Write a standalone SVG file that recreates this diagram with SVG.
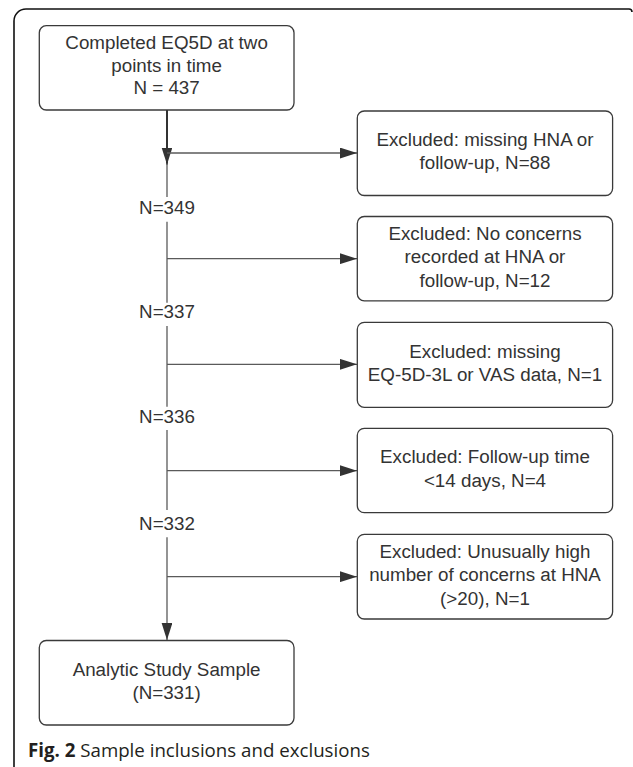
<svg xmlns="http://www.w3.org/2000/svg" width="633" height="767" viewBox="0 0 633 767">
<style>
.box{fill:#fff;stroke:#3a3a3a;stroke-width:1.3}
.t{font-family:"Liberation Sans",Arial,sans-serif;font-size:18.8px;fill:#333;text-anchor:middle}
.c{stroke:#5a5a5a;stroke-width:1.3;fill:none}
.cd{stroke:#333;stroke-width:2;fill:none}
.cap{font-family:"Open Sans","Noto Sans",sans-serif;font-size:18.7px;fill:#231f20}
</style>
<defs>
<marker id="ah" markerUnits="userSpaceOnUse" markerWidth="17" markerHeight="11" refX="17" refY="5.4" orient="auto">
<path d="M0,0 L17,5.4 L0,10.8 z" fill="#333"/>
</marker>
</defs>
<rect width="633" height="767" fill="#fff"/>
<path d="M14,767 L14,21 A12,12 0 0 1 26,9 L629,9 A3,3 0 0 1 632,12" fill="none" stroke="#111" stroke-width="1.6"/>
<g id="connectors">
<line class="cd" x1="167" y1="110" x2="167" y2="164.6" marker-end="url(#ah)"/>
<line class="c" x1="167" y1="163" x2="167" y2="197"/>
<line class="c" x1="167" y1="221.7" x2="167" y2="302.7"/>
<line class="c" x1="167" y1="326" x2="167" y2="406.7"/>
<line class="c" x1="167" y1="430" x2="167" y2="510"/>
<line class="c" x1="167" y1="537.3" x2="167" y2="640" marker-end="url(#ah)"/>
<line class="c" x1="167" y1="153" x2="357" y2="153" marker-end="url(#ah)"/>
<line class="c" x1="167" y1="258.7" x2="357" y2="258.7" marker-end="url(#ah)"/>
<line class="c" x1="167" y1="364.3" x2="357" y2="364.3" marker-end="url(#ah)"/>
<line class="c" x1="167" y1="470.7" x2="357" y2="470.7" marker-end="url(#ah)"/>
<line class="c" x1="167" y1="576.7" x2="357" y2="576.7" marker-end="url(#ah)"/>
<text class="t" x="167" y="214">N=349</text>
<text class="t" x="167" y="318.3">N=337</text>
<text class="t" x="167" y="422.7">N=336</text>
<text class="t" x="167" y="530">N=332</text>
</g>
<g id="start">
<rect class="box" x="39.3" y="25.7" width="254.7" height="84.3" rx="7"/>
<text class="t" x="166.6" y="49.3">Completed EQ5D at two</text>
<text class="t" x="166.6" y="71.8">points in time</text>
<text class="t" x="166.6" y="94.3">N = 437</text>
</g>
<g id="excl1">
<rect class="box" x="357.3" y="111" width="255.3" height="84.5" rx="7"/>
<text class="t" x="485" y="145.7">Excluded: missing HNA or</text>
<text class="t" x="485" y="169.2">follow-up, N=88</text>
</g>
<g id="excl2">
<rect class="box" x="357.3" y="216.5" width="255.3" height="84.3" rx="7"/>
<text class="t" x="485" y="240">Excluded: No concerns</text>
<text class="t" x="485" y="263.3">recorded at HNA or</text>
<text class="t" x="485" y="286.6">follow-up, N=12</text>
</g>
<g id="excl3">
<rect class="box" x="357.3" y="322.3" width="255.3" height="85" rx="7"/>
<text class="t" x="485" y="357.5">Excluded: missing</text>
<text class="t" x="485" y="381">EQ-5D-3L or VAS data, N=1</text>
</g>
<g id="excl4">
<rect class="box" x="357.3" y="428.3" width="255.3" height="84.4" rx="7"/>
<text class="t" x="485" y="463.4">Excluded: Follow-up time</text>
<text class="t" x="485" y="486.9">&lt;14 days, N=4</text>
</g>
<g id="excl5">
<rect class="box" x="357.3" y="534.3" width="255.3" height="84.7" rx="7"/>
<text class="t" x="485" y="558">Excluded: Unusually high</text>
<text class="t" x="485" y="581.3">number of concerns at HNA</text>
<text class="t" x="485" y="604.6">(&gt;20), N=1</text>
</g>
<g id="final">
<rect class="box" x="39.3" y="640.5" width="254.7" height="84.5" rx="7"/>
<text class="t" x="166.6" y="675.7">Analytic Study Sample</text>
<text class="t" x="166.6" y="699.3">(N=331)</text>
</g>
<text class="cap" x="28" y="757"><tspan font-weight="bold">Fig. 2</tspan> Sample inclusions and exclusions</text>
</svg>
